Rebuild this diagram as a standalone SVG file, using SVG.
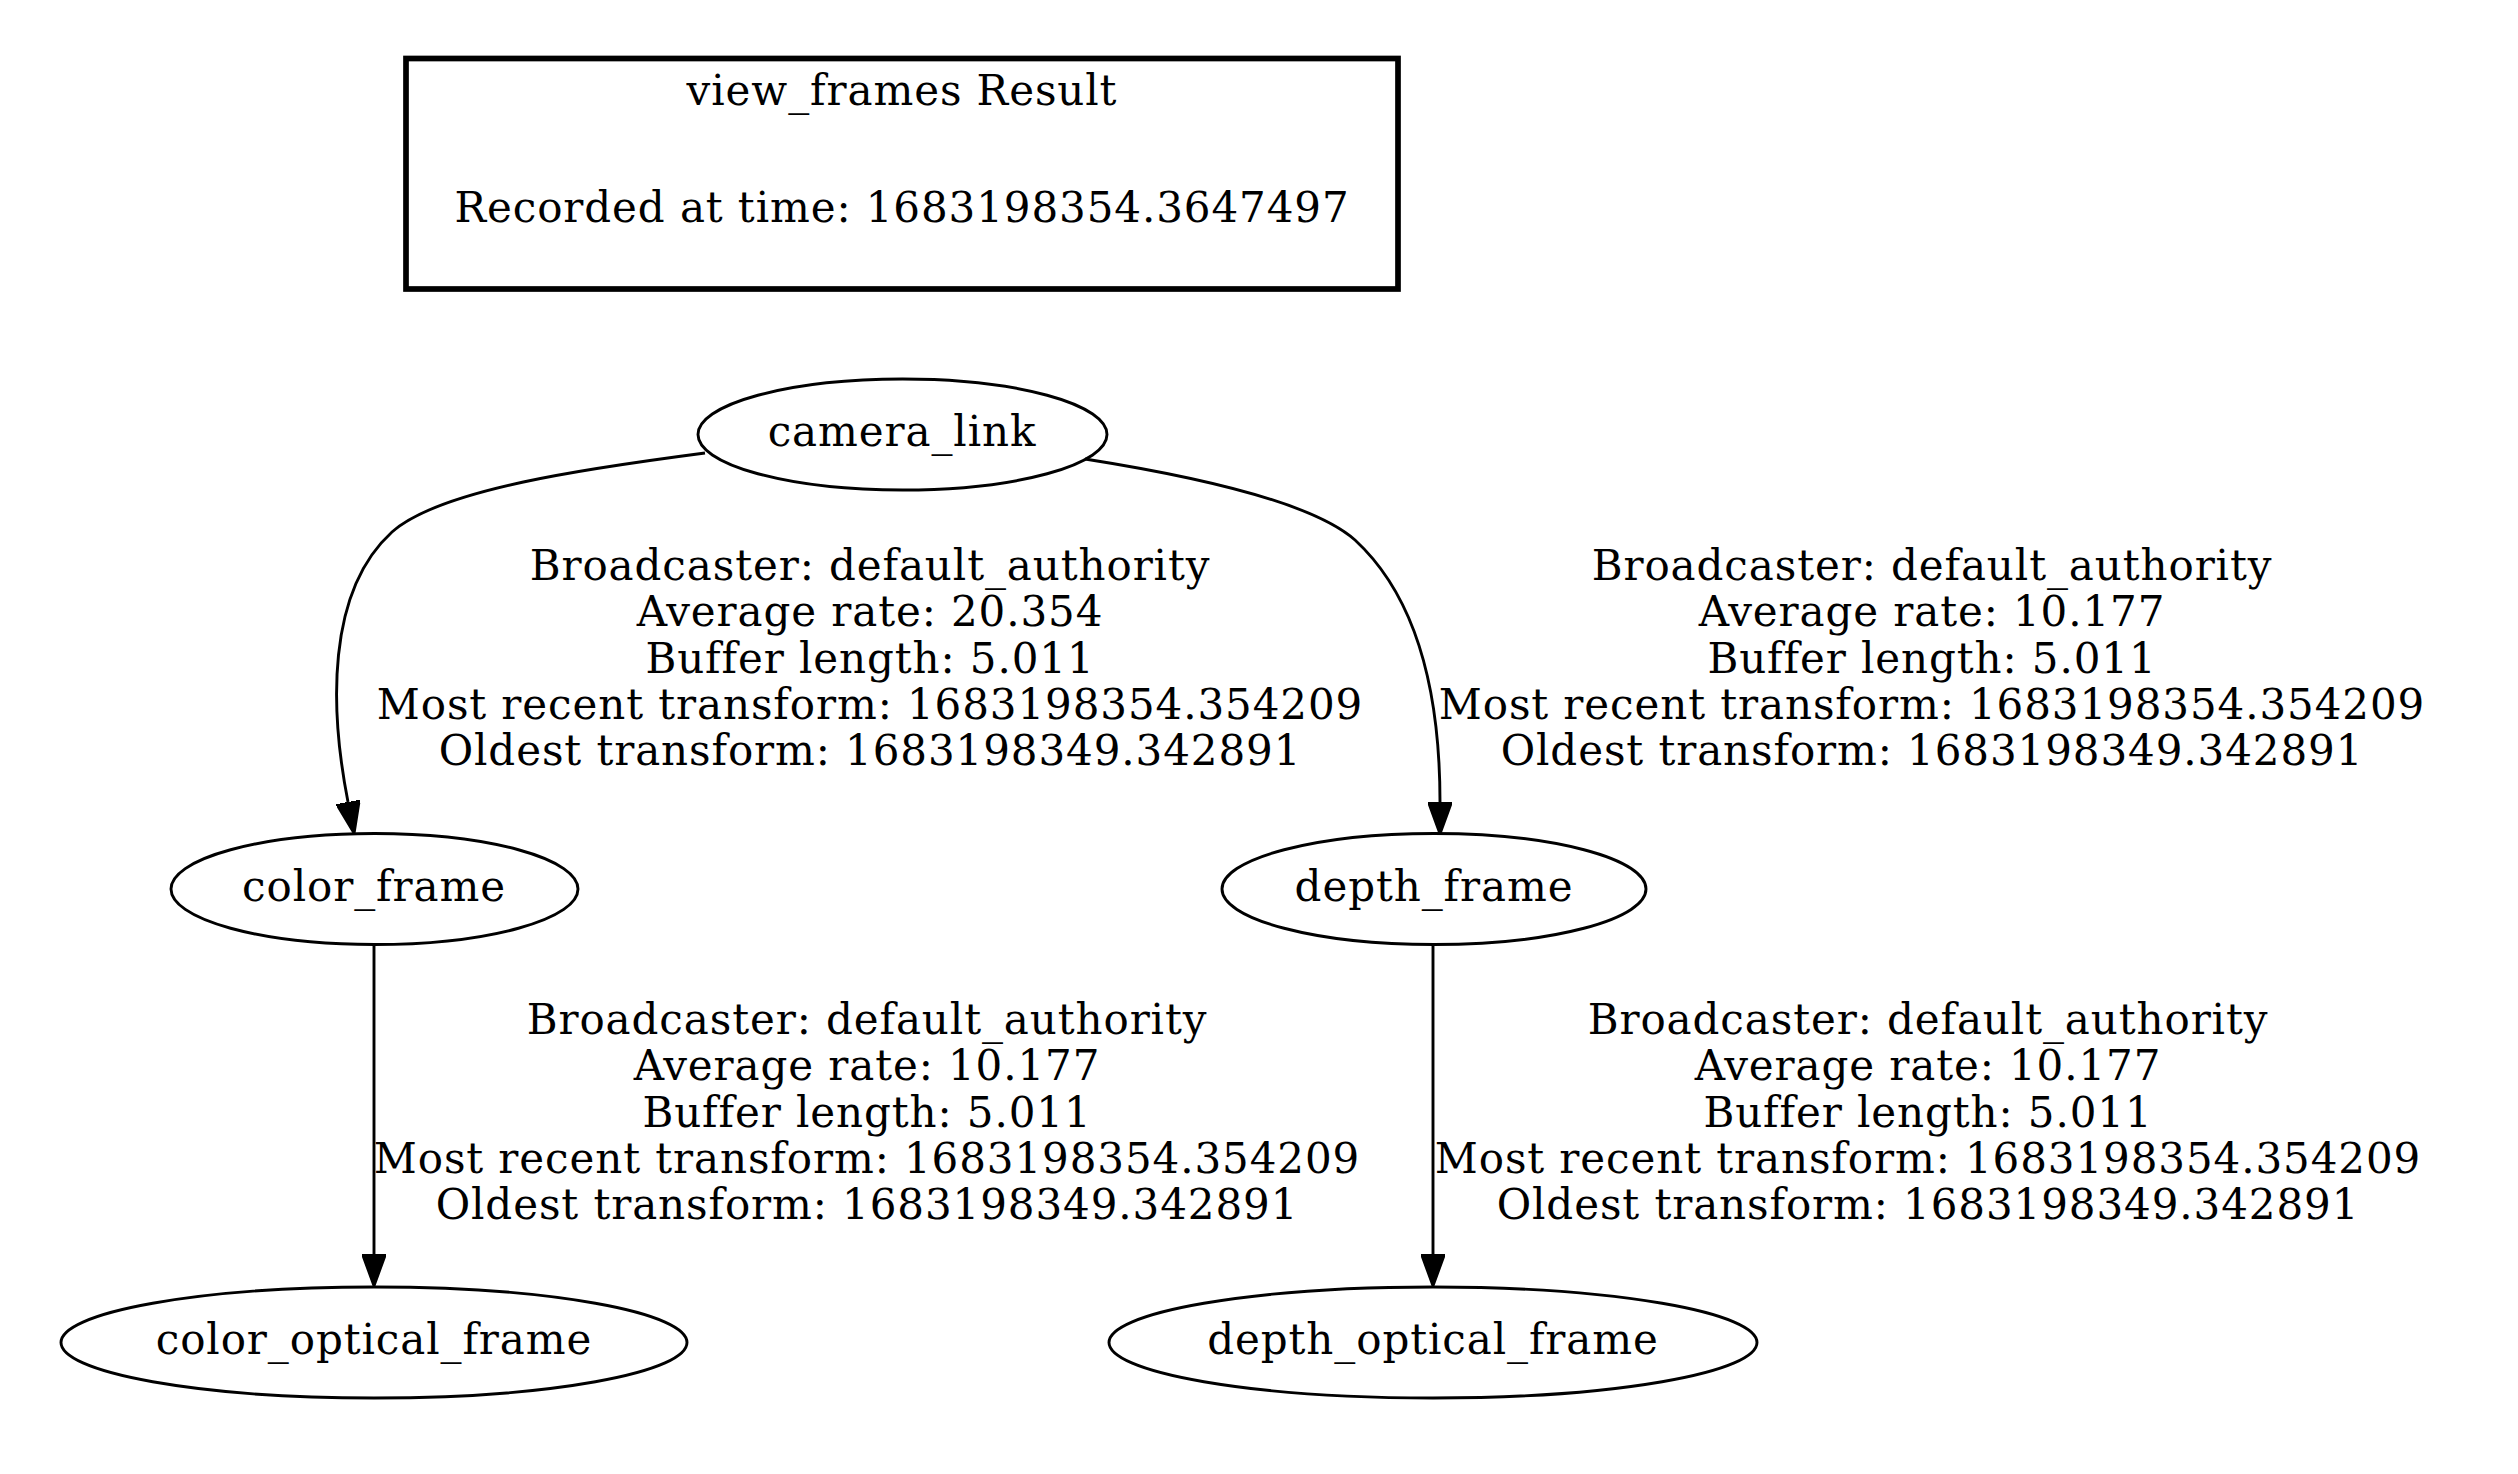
<svg xmlns="http://www.w3.org/2000/svg" width="2518" height="1474" viewBox="0 0 2518 1474">
<style>
text{font-family:"DejaVu Serif","Liberation Serif",serif;font-size:42px;letter-spacing:0.9px;fill:#000;text-anchor:middle}
.node ellipse{fill:none;stroke:#000;stroke-width:2.9}
.edge{fill:none;stroke:#000;stroke-width:2.9}
</style>
<defs>
<marker id="arr" viewBox="0 0 33 24" refX="0" refY="12" markerWidth="33" markerHeight="24" markerUnits="userSpaceOnUse" orient="auto">
<path d="M0,0 L33,12 L0,24 z" fill="#000" stroke="#000" stroke-width="2"/>
</marker>
</defs>
<rect width="2518" height="1474" fill="#fff"/>
<g id="legend">
<rect x="406" y="58.5" width="992" height="230.5" fill="none" stroke="#000" stroke-width="5.7"/>
<text x="902" y="105">view_frames Result</text>
<text x="902" y="222">Recorded at time: 1683198354.3647497</text>
</g>
<g id="connectors">
<g id="e1">
<path class="edge" d="M705,453 C590,468 440,489 392,532 C326,592 330,710 348,802" marker-end="url(#arr)"/>
<text x="870" y="580">Broadcaster: default_authority</text>
<text x="870" y="626.3">Average rate: 20.354</text>
<text x="870" y="672.6">Buffer length: 5.011</text>
<text x="870" y="718.9">Most recent transform: 1683198354.354209</text>
<text x="870" y="765.2">Oldest transform: 1683198349.342891</text>
</g>
<g id="e2">
<path class="edge" d="M1085,459 C1180,474 1310,500 1355,540 C1420,600 1440,700 1440,802" marker-end="url(#arr)"/>
<text x="1932" y="580">Broadcaster: default_authority</text>
<text x="1932" y="626.3">Average rate: 10.177</text>
<text x="1932" y="672.6">Buffer length: 5.011</text>
<text x="1932" y="718.9">Most recent transform: 1683198354.354209</text>
<text x="1932" y="765.2">Oldest transform: 1683198349.342891</text>
</g>
<g id="e3">
<path class="edge" d="M374,945 L374,1254" marker-end="url(#arr)"/>
<text x="867" y="1034">Broadcaster: default_authority</text>
<text x="867" y="1080.3">Average rate: 10.177</text>
<text x="867" y="1126.6">Buffer length: 5.011</text>
<text x="867" y="1172.9">Most recent transform: 1683198354.354209</text>
<text x="867" y="1219.2">Oldest transform: 1683198349.342891</text>
</g>
<g id="e4">
<path class="edge" d="M1433,945 L1433,1254" marker-end="url(#arr)"/>
<text x="1928" y="1034">Broadcaster: default_authority</text>
<text x="1928" y="1080.3">Average rate: 10.177</text>
<text x="1928" y="1126.6">Buffer length: 5.011</text>
<text x="1928" y="1172.9">Most recent transform: 1683198354.354209</text>
<text x="1928" y="1219.2">Oldest transform: 1683198349.342891</text>
</g>
</g>
<g id="camera_link" class="node">
<ellipse cx="902.5" cy="434.5" rx="204.5" ry="55.5"/>
<text x="902" y="446">camera_link</text>
</g>
<g id="color_frame" class="node">
<ellipse cx="374.5" cy="889" rx="203.5" ry="55.5"/>
<text x="374" y="900.5">color_frame</text>
</g>
<g id="depth_frame" class="node">
<ellipse cx="1434" cy="889" rx="212" ry="55.5"/>
<text x="1434" y="900.5">depth_frame</text>
</g>
<g id="color_optical_frame" class="node">
<ellipse cx="374" cy="1342.5" rx="313" ry="55.5"/>
<text x="374" y="1354">color_optical_frame</text>
</g>
<g id="depth_optical_frame" class="node">
<ellipse cx="1433" cy="1342.5" rx="324" ry="55.5"/>
<text x="1433" y="1354">depth_optical_frame</text>
</g>
</svg>
